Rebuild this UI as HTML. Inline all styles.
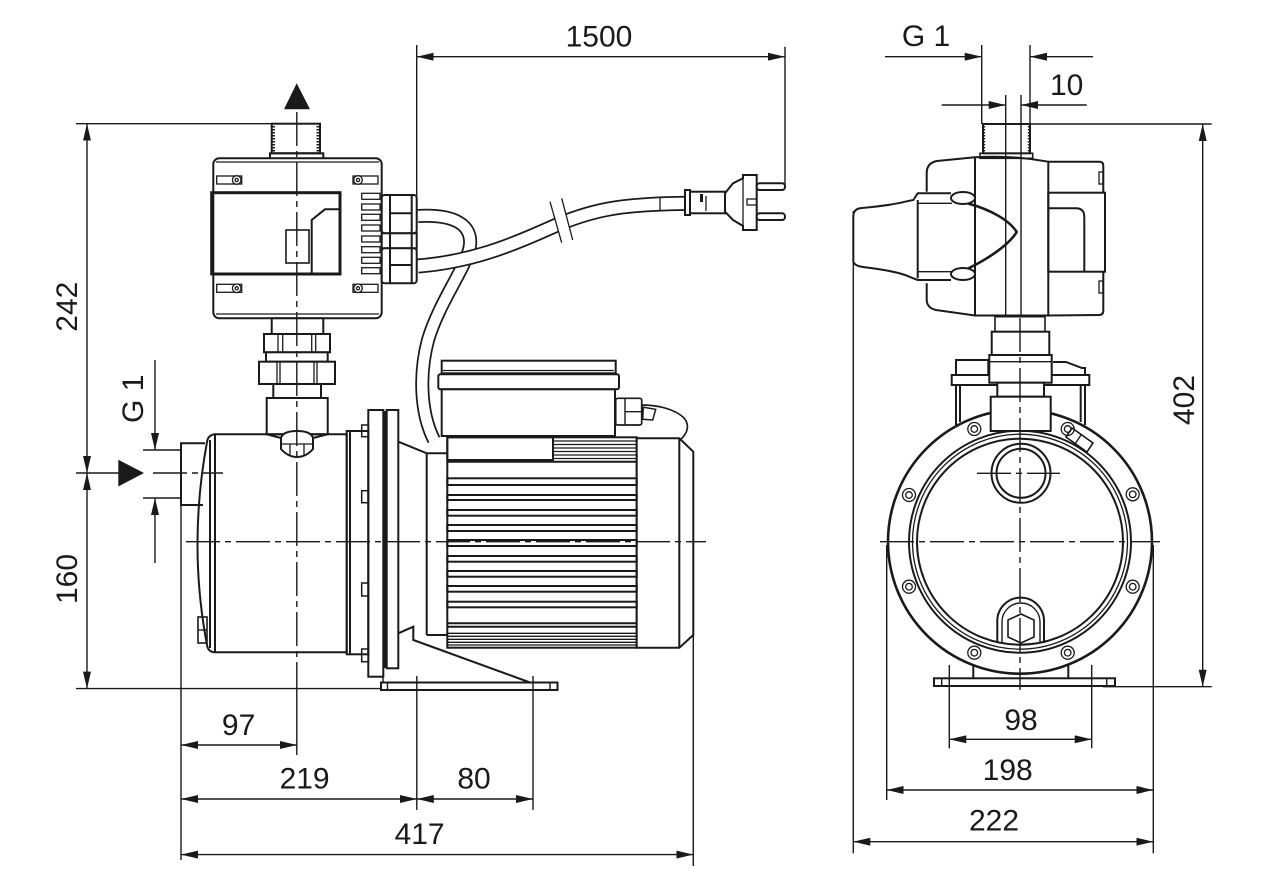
<!DOCTYPE html>
<html><head><meta charset="utf-8"><style>
html,body{margin:0;padding:0;background:#fff;}
svg{display:block;}
.o{fill:none;stroke:#1a1a1a;stroke-width:2;}
.t{fill:none;stroke:#1a1a1a;stroke-width:1.3;}
.d{fill:none;stroke:#1a1a1a;stroke-width:1.4;}
.c{fill:none;stroke:#1a1a1a;stroke-width:1.4;stroke-dasharray:34 5 6 5;}
.w{fill:#fff;stroke:#1a1a1a;stroke-width:2;}
text{font-family:"Liberation Sans",sans-serif;font-size:30px;fill:#1a1a1a;}
</style></head><body>
<svg width="1280" height="870" viewBox="0 0 1280 870" xmlns="http://www.w3.org/2000/svg">
<defs>
<marker id="a" viewBox="0 0 17 8" refX="17" refY="4" markerWidth="17" markerHeight="8" markerUnits="userSpaceOnUse" orient="auto-start-reverse"><path d="M0,0L17,4L0,8z" fill="#1a1a1a"/></marker>
</defs>

<!-- ================= LEFT VIEW ================= -->
<!-- dimension lines -->
<g class="d">
<line x1="76" y1="123.7" x2="320" y2="123.7"/>
<line x1="76" y1="473" x2="121" y2="473"/>
<line x1="76" y1="688.6" x2="382" y2="688.6"/>
<line x1="87" y1="123.7" x2="87" y2="473" marker-start="url(#a)" marker-end="url(#a)"/>
<line x1="87" y1="473" x2="87" y2="688.6" marker-start="url(#a)" marker-end="url(#a)"/>
<line x1="155" y1="360" x2="155" y2="450" marker-end="url(#a)"/>
<line x1="155" y1="563" x2="155" y2="498" marker-end="url(#a)"/>
<line x1="143" y1="450" x2="181" y2="450"/>
<line x1="143" y1="498" x2="181" y2="498"/>
<line x1="181" y1="505" x2="181" y2="860"/>
<line x1="416.8" y1="676" x2="416.8" y2="810"/>
<line x1="533" y1="676" x2="533" y2="810"/>
<line x1="693.3" y1="635" x2="693.3" y2="866"/>
<line x1="296.8" y1="690" x2="296.8" y2="755"/>
<line x1="181" y1="745" x2="296.8" y2="745" marker-start="url(#a)" marker-end="url(#a)"/>
<line x1="181" y1="799" x2="416.8" y2="799" marker-start="url(#a)" marker-end="url(#a)"/>
<line x1="416.8" y1="799" x2="533" y2="799" marker-start="url(#a)" marker-end="url(#a)"/>
<line x1="181" y1="854.6" x2="693.3" y2="854.6" marker-start="url(#a)" marker-end="url(#a)"/>
<line x1="416.7" y1="45" x2="416.7" y2="196"/>
<line x1="785" y1="46.7" x2="785" y2="188"/>
<line x1="416.7" y1="56.7" x2="785" y2="56.7" marker-start="url(#a)" marker-end="url(#a)"/>
</g>
<text x="599" y="46.7" text-anchor="middle">1500</text>
<text x="238.6" y="735" text-anchor="middle">97</text>
<text x="304.6" y="788.6" text-anchor="middle">219</text>
<text x="474" y="788.6" text-anchor="middle">80</text>
<text x="419.6" y="844" text-anchor="middle">417</text>
<text transform="translate(77,306.7) rotate(-90)" text-anchor="middle">242</text>
<text transform="translate(77,579) rotate(-90)" text-anchor="middle">160</text>
<text transform="translate(143,398.8) rotate(-90)" text-anchor="middle">G 1</text>

<!-- flow arrows -->
<polygon points="296.7,83.3 284,109.3 310,109.3" fill="#1a1a1a"/>
<polygon points="118.3,459.7 144,473 118.3,486.5" fill="#1a1a1a"/>

<!-- cables -->
<path d="M418,216 C455,214 472,225 470,245 C468,265 440,300 428,340 C420,370 419,410 434,440" stroke="#1a1a1a" stroke-width="14" fill="none"/>
<path d="M418,216 C455,214 472,225 470,245 C468,265 440,300 428,340 C420,370 419,410 434,440" stroke="#fff" stroke-width="10.5" fill="none"/>
<path d="M418,266 C470,262 510,246 550,228 C590,210 620,204 685,203.4" stroke="#1a1a1a" stroke-width="15" fill="none"/>
<path d="M418,266 C470,262 510,246 550,228 C590,210 620,204 685,203.4" stroke="#fff" stroke-width="11.5" fill="none"/>
<polygon points="550,201.7 561.7,198.3 572.7,240 561.7,242.7" fill="#fff"/>
<line class="t" x1="550" y1="201.7" x2="561.7" y2="242.7"/>
<line class="t" x1="561.7" y1="198.3" x2="572.7" y2="240"/>
<line class="t" x1="660" y1="196.7" x2="660" y2="210"/>
<!-- plug -->
<rect class="w" x="685" y="190" width="5" height="25" stroke-width="1.6"/>
<rect class="w" x="690" y="191.7" width="35" height="21.6" stroke-width="1.6"/>
<rect x="700" y="194" width="3" height="8" fill="#1a1a1a"/>
<line class="t" x1="706" y1="196" x2="706" y2="211"/>
<polygon class="w" stroke-width="1.6" points="725,193.3 733,183.3 743,178.3 743,175 756.7,175 756.7,230 743,230 743,226 733,220 725,211.7"/>
<line class="t" x1="743" y1="178.3" x2="743" y2="226"/>
<rect class="t" x="747" y="199" width="9.7" height="6"/>
<rect class="w" x="756.7" y="183.3" width="28.3" height="6.7" rx="3" stroke-width="1.5"/>
<rect class="w" x="756.7" y="213.3" width="28.3" height="6.7" rx="3" stroke-width="1.5"/>

<!-- control box -->
<g class="o">
<rect x="271.7" y="123.7" width="48.3" height="29.6"/>
<rect x="270" y="153.3" width="53.3" height="5.3"/>
<rect x="213.3" y="158.3" width="168.4" height="160" rx="6" fill="#fff"/>
<line x1="216" y1="162" x2="379" y2="162" stroke-width="1.2"/>
<line x1="216" y1="314" x2="379" y2="314" stroke-width="1.2"/>
<rect x="211.7" y="192.7" width="128.3" height="81.3" stroke-width="3"/>
<polyline points="311.7,274 311.7,220 325,209.3 340,209.3"/>
<rect x="286" y="230" width="23" height="33" stroke-width="1.6"/>
</g>
<g class="t">
<line x1="273.5" y1="126" x2="273.5" y2="152" stroke-width="3" stroke-dasharray="1.5 1.5"/>
<line x1="318" y1="126" x2="318" y2="152" stroke-width="3" stroke-dasharray="1.5 1.5"/>
<rect x="216.7" y="176" width="25" height="8"/><circle cx="236.7" cy="180" r="4.3" fill="#fff"/><circle cx="236.7" cy="180" r="1.6"/>
<rect x="353" y="176" width="25" height="8"/><circle cx="358" cy="180" r="4.3" fill="#fff"/><circle cx="358" cy="180" r="1.6"/>
<rect x="216.7" y="284.3" width="25" height="8"/><circle cx="236.7" cy="288.3" r="4.3" fill="#fff"/><circle cx="236.7" cy="288.3" r="1.6"/>
<rect x="353" y="284.3" width="25" height="8"/><circle cx="358" cy="288.3" r="4.3" fill="#fff"/><circle cx="358" cy="288.3" r="1.6"/>
<rect x="361.7" y="193.3" width="18.3" height="6"/>
<rect x="361.7" y="204" width="18.3" height="6"/>
<rect x="361.7" y="214.3" width="18.3" height="6"/>
<rect x="361.7" y="225" width="18.3" height="6"/>
<rect x="361.7" y="236" width="18.3" height="6"/>
<rect x="361.7" y="246.7" width="18.3" height="6"/>
<rect x="361.7" y="257.3" width="18.3" height="6"/>
<rect x="361.7" y="267.7" width="18.3" height="6"/>
</g>
<!-- glands -->
<g class="o" stroke-width="1.7">
<rect x="381.7" y="195" width="35" height="38.3" rx="3" fill="#fff"/>
<rect x="381.7" y="233.3" width="35" height="15" fill="#fff"/>
<rect x="381.7" y="248.3" width="35" height="35" rx="3" fill="#fff"/>
<line x1="390" y1="195" x2="390" y2="283.3"/>
<line x1="411.7" y1="195" x2="411.7" y2="283.3"/>
<line x1="390" y1="213.3" x2="411.7" y2="213.3"/>
<line x1="390" y1="265" x2="411.7" y2="265"/>
</g>

<!-- piping below box -->
<g class="o">
<rect x="271.7" y="318.3" width="51.6" height="15.7" fill="#fff"/>
<rect x="264" y="334" width="66" height="18.3" fill="#fff"/>
<rect x="266" y="352.3" width="61.7" height="9.4" fill="#fff"/>
<rect x="259" y="361.7" width="76" height="22.3" fill="#fff"/>
<rect x="273.3" y="384" width="47.7" height="14" fill="#fff"/>
<rect x="266.7" y="398" width="61" height="36.3" fill="#fff"/>
</g>
<g class="t">
<line x1="278" y1="334" x2="278" y2="352.3"/><line x1="282.7" y1="334" x2="282.7" y2="352.3"/>
<line x1="311.7" y1="334" x2="311.7" y2="352.3"/><line x1="315.7" y1="334" x2="315.7" y2="352.3"/>
<line x1="277" y1="361.7" x2="277" y2="384"/><line x1="280" y1="361.7" x2="280" y2="384"/>
<line x1="314" y1="361.7" x2="314" y2="384"/><line x1="317" y1="361.7" x2="317" y2="384"/>
</g>

<!-- pump casing -->
<g class="o">
<path d="M205,443.3 L181,443.3 L181,505 L203,505"/>
<path d="M215,434.3 L346.7,434.3 L346.7,652.3 L215,652.3"/>
<path d="M215,434.3 Q208,435 207,442 Q188,545 207,645 Q208,652 215,652.3"/>
<line x1="210" y1="440" x2="210" y2="648"/>
<line x1="215" y1="434.3" x2="215" y2="652.3"/>
<rect x="198" y="617" width="9" height="26" stroke-width="1.6"/>
<line x1="198" y1="630" x2="207" y2="630" stroke-width="1.3"/>
<line x1="266.7" y1="434.3" x2="281" y2="438"/>
<line x1="327.7" y1="434.3" x2="313" y2="438"/>
<path d="M281,438 Q283,431 297,431 Q311,431 313,438 L313,449 Q306,457 297,457 Q288,457 281,449 Z" fill="#fff"/>
<line x1="281" y1="444" x2="313" y2="444" stroke-width="1.3"/>
<line x1="290" y1="444" x2="290" y2="456" stroke-width="1.3"/>
<line x1="304" y1="444" x2="304" y2="456" stroke-width="1.3"/>
<!-- flange -->
<rect x="346.7" y="431" width="21.6" height="223.3"/>
<line x1="350" y1="431" x2="350" y2="654.3"/>
<rect x="368.3" y="410" width="15" height="266.7"/>
<line x1="385" y1="411" x2="385" y2="668" stroke-width="3.5"/>
<rect x="386.7" y="410" width="11.6" height="258.3"/>
<rect x="361.7" y="425" width="6.6" height="11.7" stroke-width="1.5"/>
<rect x="361.7" y="490.7" width="6.6" height="12" stroke-width="1.5"/>
<rect x="361.7" y="583" width="6.6" height="13" stroke-width="1.5"/>
<rect x="361.7" y="649" width="6.6" height="12.7" stroke-width="1.5"/>
<!-- adapter & foot -->
<path d="M398.3,441.7 L426.7,453.3 L447.3,453.3"/>
<line x1="426.7" y1="453.3" x2="426.7" y2="635"/>
<line x1="426.7" y1="635" x2="447.3" y2="635"/>
<polyline points="398.3,633.3 413.3,626.7 413.3,640 530,682.5"/>
<rect x="381" y="682.5" width="176.5" height="7.5"/>
<line x1="387.5" y1="682.5" x2="387.5" y2="690" stroke-width="1.4"/>
<line x1="550" y1="682.5" x2="550" y2="690" stroke-width="1.4"/>
<line x1="383" y1="676.7" x2="383" y2="682.5" stroke-width="1.4"/>
</g>

<!-- motor -->
<g class="o">
<rect x="447.3" y="437.3" width="189.4" height="210.4"/>
<rect x="447.3" y="437.3" width="105.7" height="22.7"/>
<line x1="447.3" y1="461.7" x2="636.7" y2="461.7"/>
<polygon points="636.7,438.3 679.3,438.3 693.3,451.7 693.3,635 679.3,647.7 636.7,647.7" fill="#fff"/>
<line x1="679.3" y1="438.3" x2="679.3" y2="647.7"/>
</g>
<g class="t">
<line x1="553" y1="441" x2="636.7" y2="441"/><line x1="553" y1="444.5" x2="636.7" y2="444.5"/>
<line x1="553" y1="448" x2="636.7" y2="448"/><line x1="553" y1="451.5" x2="636.7" y2="451.5"/>
<line x1="553" y1="455" x2="636.7" y2="455"/><line x1="553" y1="458.5" x2="636.7" y2="458.5"/>
</g>
<g class="o" stroke-width="1.7">
<rect x="447.3" y="478.3" width="189.4" height="6.7"/>
<rect x="447.3" y="495" width="189.4" height="5"/>
<rect x="447.3" y="510" width="189.4" height="5.7"/>
<rect x="447.3" y="525" width="189.4" height="6"/>
<rect x="447.3" y="540" width="189.4" height="6"/>
<rect x="447.3" y="556" width="189.4" height="5.7"/>
<rect x="447.3" y="571" width="189.4" height="5.7"/>
<rect x="447.3" y="586" width="189.4" height="5.7"/>
<rect x="447.3" y="601.7" width="189.4" height="5.6"/>
<line x1="447.3" y1="623.3" x2="636.7" y2="623.3"/>
<line x1="447.3" y1="626.7" x2="636.7" y2="626.7"/>
</g>
<g class="t">
<line x1="447.3" y1="633.3" x2="636.7" y2="633.3"/><line x1="447.3" y1="636.3" x2="636.7" y2="636.3"/>
<line x1="447.3" y1="639.3" x2="636.7" y2="639.3"/><line x1="447.3" y1="642.3" x2="636.7" y2="642.3"/>
<line x1="447.3" y1="645" x2="636.7" y2="645"/>
</g>
<!-- motor terminal box -->
<g class="o">
<rect x="441.7" y="360.7" width="174" height="12.6" fill="#fff"/>
<line x1="443" y1="370.5" x2="614" y2="370.5" stroke-width="1.2"/>
<rect x="438.3" y="374.3" width="180.7" height="15" rx="2" fill="#fff"/>
<rect x="441.7" y="389.3" width="173.3" height="46.7" fill="#fff"/>
<rect x="615.7" y="398.3" width="26" height="26.7" rx="2" fill="#fff" stroke-width="1.7"/>
<line x1="625" y1="398.3" x2="625" y2="425" stroke-width="1.4"/>
<line x1="625" y1="411.7" x2="641.7" y2="411.7" stroke-width="1.4"/>
<path d="M641.7,405 C660,405 676,410 684,418 C690,425 688,433 680,440" stroke-width="1.7"/>
<polygon points="643.3,407.3 655.7,409.3 652.7,420 642.7,419.3" stroke-width="1.5"/>
</g>

<!-- centerlines left view -->
<line class="c" x1="296.8" y1="112" x2="296.8" y2="690"/>
<line class="c" x1="186" y1="541.7" x2="706" y2="541.7"/>
<line class="c" x1="153" y1="473" x2="223" y2="473"/>

<!-- ================= RIGHT VIEW ================= -->
<g class="d">
<line x1="885" y1="56.7" x2="981.7" y2="56.7" marker-end="url(#a)"/>
<line x1="1093" y1="56.7" x2="1030" y2="56.7" marker-end="url(#a)"/>
<line x1="981.7" y1="45" x2="981.7" y2="124"/>
<line x1="1030" y1="45" x2="1030" y2="124"/>
<line x1="941.7" y1="105" x2="1005.7" y2="105" marker-end="url(#a)"/>
<line x1="1086.7" y1="105" x2="1021" y2="105" marker-end="url(#a)"/>
<line x1="1005.7" y1="95" x2="1005.7" y2="316.7"/>
<line x1="1021" y1="95" x2="1021" y2="316.7"/>
<line x1="983" y1="124" x2="1211.7" y2="124"/>
<line x1="1103" y1="686.7" x2="1211.7" y2="686.7"/>
<line x1="1202.7" y1="124" x2="1202.7" y2="686.7" marker-start="url(#a)" marker-end="url(#a)"/>
<line x1="853.3" y1="211" x2="853.3" y2="853.3"/>
<line x1="886.7" y1="545" x2="886.7" y2="800"/>
<line x1="1153.3" y1="545" x2="1153.3" y2="853.3"/>
<line x1="949.3" y1="665" x2="949.3" y2="748.3"/>
<line x1="1091.7" y1="665" x2="1091.7" y2="748.3"/>
<line x1="949.3" y1="739.3" x2="1091.7" y2="739.3" marker-start="url(#a)" marker-end="url(#a)"/>
<line x1="886.7" y1="790" x2="1153.3" y2="790" marker-start="url(#a)" marker-end="url(#a)"/>
<line x1="853.3" y1="841.7" x2="1153.3" y2="841.7" marker-start="url(#a)" marker-end="url(#a)"/>
</g>
<text x="926" y="46" text-anchor="middle">G 1</text>
<text x="1066.7" y="95" text-anchor="middle">10</text>
<text transform="translate(1194,400) rotate(-90)" text-anchor="middle">402</text>
<text x="1021" y="730" text-anchor="middle">98</text>
<text x="1007.7" y="780" text-anchor="middle">198</text>
<text x="994" y="830.7" text-anchor="middle">222</text>

<!-- right view: control box side -->
<g class="o">
<rect x="983" y="124" width="47" height="29.3"/>
<rect x="980" y="153.3" width="52.7" height="5" stroke-width="1.6"/>
<path d="M975,157.3 Q1012,155 1048.3,161.7 L1048.3,315.5 L975,315.5 Z"/>
<path d="M1048.3,161.7 L1100,161.7 Q1103.3,162 1103.3,166 L1103.3,192.7 M1103.3,271.7 L1103.3,311 Q1103,315 1099,315 L1048.3,315.5"/>
<rect x="1048.3" y="192.7" width="56.7" height="79"/>
<path d="M1048.3,208.3 L1076,208.3 Q1084.3,208.3 1084.3,217 L1084.3,271.7"/>
<path d="M975,157.3 L937,161 Q926.7,163 926.7,173 L926.7,191.7"/>
<path d="M926.7,283.3 L926.7,300 Q927,308 936,310 L975,315.5"/>
<path d="M853.3,262 L853.3,216 Q853.5,208.5 862,208 Q890,205.5 905,201.7 L913.3,200 L917.7,193.3 L951,193.3"/>
<path d="M853.3,262 Q855,266 863,267 Q892,270.5 905,275 L913.3,278.3 L917.7,280 L951,280"/>
<line x1="917.7" y1="200" x2="917.7" y2="278.3"/>
<line x1="917.7" y1="203.3" x2="952" y2="203.3" stroke-width="1.4"/>
<line x1="917.7" y1="271.7" x2="952" y2="271.7" stroke-width="1.4"/>
<ellipse cx="963" cy="198" rx="12" ry="6" fill="#fff"/>
<ellipse cx="963" cy="274" rx="12" ry="6" fill="#fff"/>
<path d="M968,203.5 C992,210 1010,221 1016.7,232 C1010,243 992,257 968,268.5" stroke-width="2.6"/>
<rect x="1099" y="172" width="4" height="12" stroke-width="1.3"/>
<rect x="1099" y="281" width="4" height="12" stroke-width="1.3"/>
</g>
<line class="t" x1="984.5" y1="126" x2="984.5" y2="152" stroke-width="3" stroke-dasharray="1.5 1.5"/>
<line class="t" x1="1028.5" y1="126" x2="1028.5" y2="152" stroke-width="3" stroke-dasharray="1.5 1.5"/>

<!-- right view: motor terminal box behind -->
<g class="o">
<rect x="956" y="360" width="32.3" height="15"/>
<path d="M1053,362 L1066,362 L1082,368 L1085,368 L1085,375"/>
<rect x="951.7" y="375" width="137.6" height="10"/>
<line x1="956" y1="385" x2="956" y2="425"/>
<line x1="960" y1="385" x2="960" y2="422"/>
<line x1="1080.7" y1="385" x2="1080.7" y2="422"/>
<line x1="1085" y1="385" x2="1085" y2="425"/>
</g>

<!-- right view: pump face -->
<circle cx="1020" cy="541.7" r="132" fill="#fff" stroke="#1a1a1a" stroke-width="2.6"/>
<circle class="o" cx="1020" cy="541.7" r="111"/>
<circle class="t" cx="1020" cy="541.7" r="107.5"/>
<circle class="o" cx="1020" cy="541.7" r="103"/>
<g class="o">
<rect x="995" y="316.7" width="50" height="15" stroke-width="1.6"/>
<rect x="991.7" y="331.7" width="57.6" height="23.3" fill="#fff"/>
<rect x="989.3" y="355" width="62.4" height="27.7" fill="#fff"/>
<line x1="989.3" y1="361.7" x2="1051.7" y2="361.7" stroke-width="1.4"/>
<rect x="997.3" y="382.7" width="46.7" height="14" fill="#fff"/>
<rect x="990.7" y="396.7" width="60" height="34.3" fill="#fff"/>
</g>
<g class="t" stroke-width="1.5">
<circle cx="974.3" cy="429" r="6.5"/><circle cx="974.3" cy="429" r="3.3"/>
<circle cx="1067.7" cy="429" r="6.5"/><circle cx="1067.7" cy="429" r="3.3"/>
<circle cx="909" cy="495" r="6.5"/><circle cx="909" cy="495" r="3.3"/>
<circle cx="1132.7" cy="494.3" r="6.5"/><circle cx="1132.7" cy="494.3" r="3.3"/>
<circle cx="909" cy="586.7" r="6.5"/><circle cx="909" cy="586.7" r="3.3"/>
<circle cx="1132.7" cy="586.7" r="6.5"/><circle cx="1132.7" cy="586.7" r="3.3"/>
<circle cx="974.3" cy="652.7" r="6.5"/><circle cx="974.3" cy="652.7" r="3.3"/>
<circle cx="1067.7" cy="652.7" r="6.5"/><circle cx="1067.7" cy="652.7" r="3.3"/>
</g>
<g class="o">
<circle cx="1021" cy="473.3" r="29.5"/>
<circle cx="1021" cy="473.3" r="24.5"/>
<path d="M997.3,643 L997.3,621 A23.3,23.3 0 0 1 1044,621 L1044,643"/>
<path d="M1002,643 L1002,622 A19,19 0 0 1 1040,622 L1040,643" stroke-width="1.4"/>
<polygon points="1021,614 1034,620 1034,637 1021,643 1008,637 1008,620" stroke-width="1.6"/>
<polygon points="1066,437 1072,428 1093,443 1087,452" stroke-width="1.6"/>
<line x1="1075" y1="444" x2="1081" y2="435" stroke-width="1.4"/>
<line x1="973.3" y1="665" x2="973.3" y2="678.3"/>
<line x1="1068.3" y1="665" x2="1068.3" y2="678.3"/>
<rect x="934" y="678.3" width="181" height="7.7"/>
<line x1="941.7" y1="678.3" x2="941.7" y2="686" stroke-width="1.4"/>
<line x1="1106.7" y1="678.3" x2="1106.7" y2="686" stroke-width="1.4"/>
</g>
<!-- centerlines right view -->
<line class="c" x1="1020" y1="318" x2="1020" y2="690"/>
<line class="c" x1="880" y1="541.7" x2="1160" y2="541.7"/>
<line class="c" x1="977" y1="473.3" x2="1060" y2="473.3"/>
</svg>
</body></html>
